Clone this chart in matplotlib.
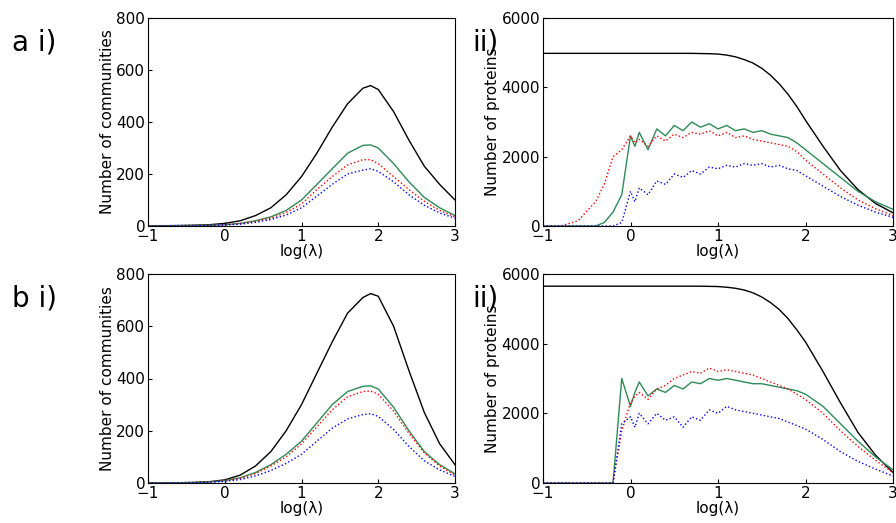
import matplotlib
matplotlib.use("Agg")
import matplotlib.pyplot as plt
import numpy as np

x = [-1.0,-0.8,-0.6,-0.4,-0.2,0.0,0.2,0.4,0.6,0.8,1.0,1.2,1.4,1.6,1.8,1.9,2.0,2.2,2.4,2.6,2.8,3.0]
ai_black = [0,1,2,3,5,10,20,40,70,120,190,280,380,470,530,540,525,440,330,230,160,100]
ai_green = [0,0,1,2,3,5,10,20,35,60,100,160,220,280,310,312,300,240,170,110,70,40]
ai_red   = [0,0,1,2,3,5,9,18,30,52,85,140,190,235,255,255,240,190,140,95,60,35]
ai_blue  = [0,0,1,1,2,4,7,14,25,42,70,115,160,200,215,220,210,170,120,80,50,30]
bi_black = [0,0,1,2,5,12,30,65,120,200,300,420,540,650,710,725,715,600,430,270,150,70]
bi_green = [0,0,1,2,4,9,20,40,70,110,160,230,300,350,370,372,360,290,200,120,70,35]
bi_red   = [0,0,1,2,4,8,18,36,65,100,150,215,280,330,350,352,340,275,190,115,65,30]
bi_blue  = [0,0,1,1,3,6,13,27,48,75,110,160,210,245,262,265,255,205,140,85,50,25]

x2 = [-1.0,-0.8,-0.6,-0.4,-0.3,-0.2,-0.1,0.0,0.05,0.1,0.2,0.3,0.4,0.5,0.6,0.7,0.8,0.9,1.0,1.1,1.2,1.3,1.4,1.5,1.6,1.7,1.8,1.9,2.0,2.2,2.4,2.6,2.8,3.0]
aii_black = [4980,4980,4980,4980,4980,4980,4980,4980,4980,4980,4980,4980,4980,4980,4980,4980,4975,4970,4960,4930,4880,4800,4700,4550,4350,4100,3800,3450,3050,2300,1600,1050,650,380]
aii_green = [0,0,0,0,100,400,900,2600,2300,2700,2200,2800,2600,2900,2750,3000,2850,2950,2800,2900,2750,2800,2700,2750,2650,2600,2550,2400,2200,1800,1400,1000,700,480]
aii_red   = [0,0,150,700,1200,2000,2200,2600,2400,2500,2300,2600,2450,2650,2550,2700,2650,2750,2600,2700,2550,2600,2500,2450,2400,2350,2300,2150,1900,1500,1100,750,500,300]
aii_blue  = [0,0,0,0,0,0,100,1000,700,1100,900,1300,1200,1500,1400,1600,1500,1700,1650,1750,1700,1800,1750,1800,1700,1750,1650,1600,1450,1150,850,600,400,250]
bii_black = [5650,5650,5650,5650,5650,5650,5650,5650,5650,5650,5650,5650,5650,5650,5650,5650,5650,5645,5640,5620,5590,5540,5460,5340,5180,4980,4720,4400,4050,3200,2300,1450,800,300]
bii_green = [0,0,0,0,0,0,3000,2200,2600,2900,2500,2700,2600,2800,2700,2900,2850,3000,2950,3000,2950,2900,2850,2850,2800,2750,2700,2650,2550,2200,1700,1200,750,380]
bii_red   = [0,0,0,0,0,0,1500,2300,2500,2600,2400,2700,2800,3000,3100,3200,3150,3300,3200,3250,3200,3150,3100,3000,2900,2800,2700,2550,2400,2000,1500,1050,650,300]
bii_blue  = [0,0,0,0,0,0,1700,1900,1600,2000,1700,2000,1800,1900,1600,1900,1800,2100,2000,2200,2100,2050,2000,1950,1900,1850,1750,1650,1550,1250,900,620,400,200]

fig = plt.figure(figsize=(8.96,5.23), dpi=100)
W, H = 896, 523
def ax_at(l, t, r, b):
    return fig.add_axes([l/W, 1-b/H, (r-l)/W, (b-t)/H])

panels = [
    (ax_at(148,18,455,226), x, ai_black, ai_green, ai_red, ai_blue, 800, 200, "Number of communities"),
    (ax_at(543,18,893,226), x2, aii_black, aii_green, aii_red, aii_blue, 6000, 2000, "Number of proteins"),
    (ax_at(148,274,455,483), x, bi_black, bi_green, bi_red, bi_blue, 800, 200, "Number of communities"),
    (ax_at(543,274,893,483), x2, bii_black, bii_green, bii_red, bii_blue, 6000, 2000, "Number of proteins"),
]
for ax, xx, k, g, r, b, ymax, ystep, ylab in panels:
    ax.plot(xx, k, color="black", lw=1)
    ax.plot(xx, g, color="#2e8b57", lw=1)
    ax.plot(xx, r, color="red", lw=1, ls=":")
    ax.plot(xx, b, color="blue", lw=1, ls=":")
    ax.set_xlim(-1, 3)
    ax.set_ylim(0, ymax)
    ax.set_xticks([-1,0,1,2,3])
    ax.set_yticks(np.arange(0, ymax+1, ystep))
    ax.set_xlabel("log(λ)", fontsize=11, labelpad=0)
    ax.set_ylabel(ylab, fontsize=11, labelpad=1)
    ax.tick_params(labelsize=11, direction="in", length=3, pad=2)

fig.text(12/W, 1-42/H, "a i)", fontsize=20, va="center")
fig.text(472/W, 1-42/H, "ii)", fontsize=20, va="center")
fig.text(12/W, 1-298/H, "b i)", fontsize=20, va="center")
fig.text(472/W, 1-298/H, "ii)", fontsize=20, va="center")
fig.savefig("out.png", dpi=100)
